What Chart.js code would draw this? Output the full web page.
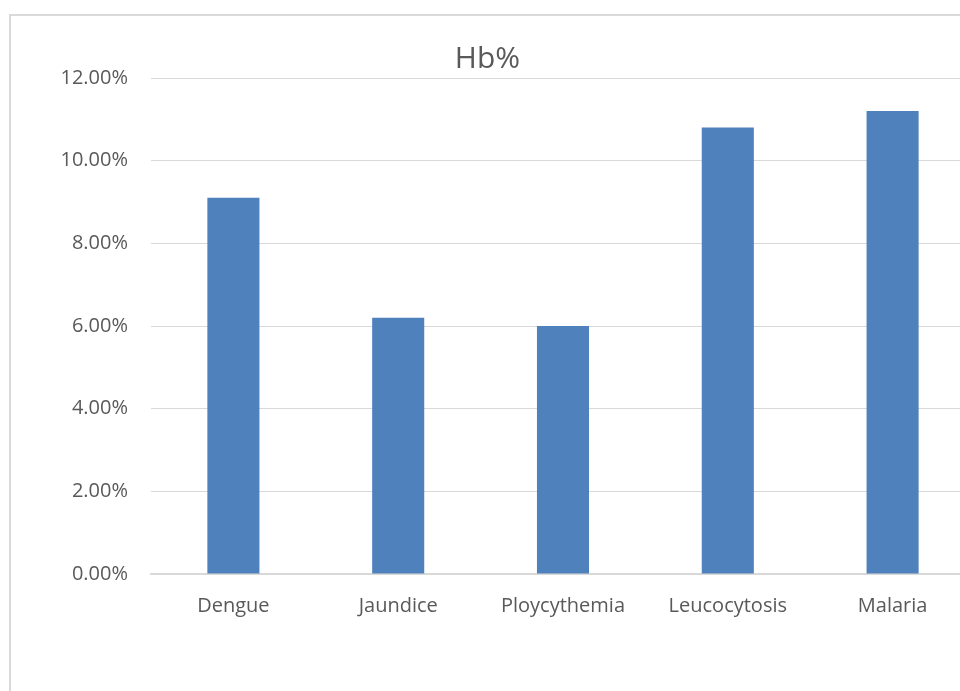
<!DOCTYPE html>
<html>
<head>
<meta charset="utf-8">
<script src="https://cdn.jsdelivr.net/npm/chart.js@4.4.1/dist/chart.umd.min.js"></script>
<style>
  html, body { margin: 0; padding: 0; background: #fff; overflow: hidden; width: 960px; height: 691px; }
  #marco { position: absolute; left: 9px; top: 14px; width: 1000px; height: 700px; border: 2px solid #d9d9d9; box-sizing: border-box; }
  #wrap { position: absolute; left: 0; top: 0; width: 975px; height: 691px; }
</style>
</head>
<body>
<div id="marco"></div>
<div id="wrap"><canvas id="chartHb"></canvas></div>
<script>
const categorias = ['Dengue', 'Jaundice', 'Ploycythemia', 'Leucocytosis', 'Malaria']
const valoresHb = [0.091, 0.062, 0.060, 0.108, 0.112]
const ejeY = { min: 0, max: 0.12, paso: 0.02 }

const canvas = document.getElementById('chartHb')
const context = canvas.getContext('2d')

const chartHb = new Chart(context, {
    type : 'bar',
    data : {
        labels : categorias,
        datasets : [
            {
                label : 'Hb%',
                data : valoresHb,
                backgroundColor : '#4f81bd',
                categoryPercentage : 1,
                barPercentage : 0.316
            }
        ]
    },
    options : {
        responsive : true,
        maintainAspectRatio : false,
        animation : false,
        layout : { padding : { left : 0, right : 0, top : 0, bottom : 0 } },
        plugins : {
            legend : { display : false },
            tooltip : { enabled : false },
            title : {
                display : true,
                text : 'Hb%',
                color : '#595959',
                font : { family : 'Open Sans', size : 30, weight : '400' },
                padding : { top : 41, bottom : 1 }
            }
        },
        scales : {
            x : {
                grid : { display : false, drawTicks : false },
                border : { color : '#d9d9d9', width : 2 },
                ticks : {
                    color : '#595959',
                    font : { family : 'Open Sans', size : 20 },
                    padding : 20,
                    maxRotation : 0
                },
                afterFit : (scale) => { scale.height = 117 }
            },
            y : {
                min : ejeY.min,
                max : ejeY.max,
                grid : { color : '#d9d9d9', lineWidth : 1, drawTicks : false },
                border : { display : false },
                ticks : {
                    stepSize : ejeY.paso,
                    color : '#595959',
                    font : { family : 'Open Sans', size : 20 },
                    padding : 23,
                    callback : (v) => (v * 100).toFixed(2) + '%'
                },
                afterFit : (scale) => { scale.width = 151 }
            }
        }
    }
})
</script>
</body>
</html>
